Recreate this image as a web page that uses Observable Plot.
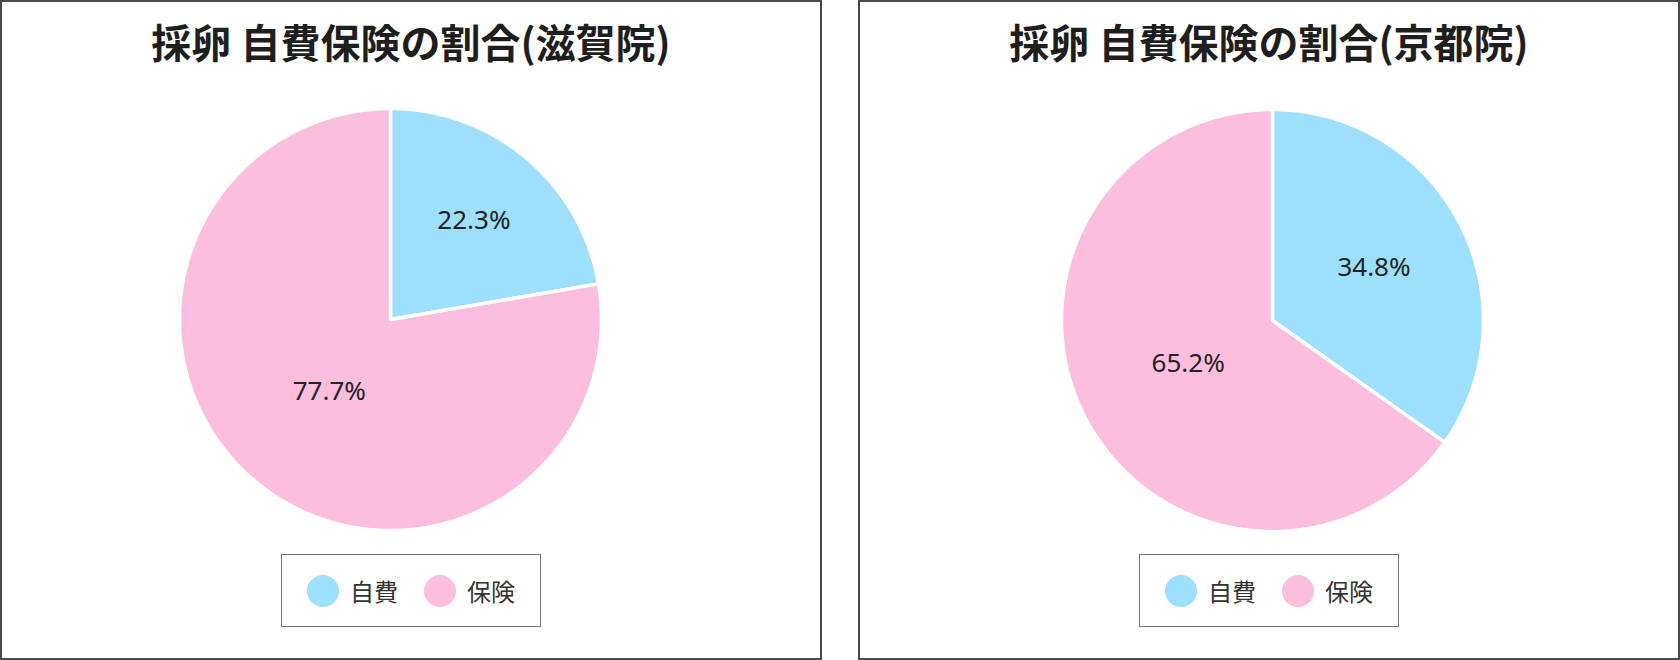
<!DOCTYPE html>
<html>
<head>
<meta charset="utf-8">
<script src="https://cdn.jsdelivr.net/npm/d3@7"></script>
<script src="https://cdn.jsdelivr.net/npm/@observablehq/plot@0.6"></script>
<style>
  html, body { margin: 0; padding: 0; background: #fff; }
  body { width: 1680px; height: 660px; position: relative; overflow: hidden; }
  .panel { position: absolute; top: 0; width: 822px; height: 660px; box-sizing: border-box;
           border: 2px solid #4a4a4a; background: #fff; }
  .title { position: absolute; left: 0; right: 0; top: 19px; line-height: 40px; text-align: center;
           font-family: "Noto Sans CJK JP", sans-serif; font-weight: 700; font-size: 40px; color: #1e1e1e; }
  .chart { position: absolute; }
  .legend { position: absolute; top: 552px; left: 50%; transform: translateX(-50%); height: 73px;
            box-sizing: border-box; border: 1.5px solid #777; display: flex; align-items: center;
            padding: 0 25px; font-family: "Noto Sans CJK JP", sans-serif; font-size: 24px; color: #333; }
  .item { display: flex; align-items: center; }
  .item + .item { margin-left: 26px; }
  .dot { width: 32px; height: 32px; border-radius: 50%; margin-right: 11px; }
</style>
</head>
<body>
<script>
// ---- data ----
const titles = ["採卵 自費保険の割合(滋賀院)", "採卵 自費保険の割合(京都院)"];
const categories = ["自費", "保険"];
const shigaValues = [22.3, 77.7];
const kyotoValues = [34.8, 65.2];
const colors = ["#9ddffc", "#fdbddd"];

// ---- layout (not data) ----
const panelLefts = [0, 858];
const chartPos = [{left: 147.5, top: 77}, {left: 171.5, top: 78}];

function pieChart(values) {
  const rows = categories.map((c, i) => ({label: c, value: values[i]}));
  const arcs = d3.pie().sort(null).value(d => d.value)(rows);
  const pts = [];
  const labels = [];
  for (const a of arcs) {
    const span = a.endAngle - a.startAngle;
    const n = Math.max(2, Math.ceil(span / (2 * Math.PI) * 720));
    pts.push({label: a.data.label, x: 0, y: 0});
    for (let k = 0; k <= n; k++) {
      const t = a.startAngle + span * k / n;
      pts.push({label: a.data.label, x: Math.sin(t), y: Math.cos(t)});
    }
    const mid = (a.startAngle + a.endAngle) / 2;
    const d = Math.max(4 * Math.sin(span / 2) / (3 * span), 0.45);
    labels.push({x: d * Math.sin(mid), y: d * Math.cos(mid), text: a.data.value.toFixed(1) + "%"});
  }
  return Plot.plot({
    width: 480, height: 480, margin: 29,
    x: {domain: [-1, 1], axis: null},
    y: {domain: [-1, 1], axis: null},
    color: {domain: categories, range: colors},
    style: {background: "transparent", overflow: "visible"},
    marks: [
      Plot.line(pts, {x: "x", y: "y", z: "label", fill: "label", stroke: "white",
                      strokeWidth: 3.5, strokeLinejoin: "miter", curve: "linear-closed"}),
      Plot.text(labels, {x: "x", y: "y", text: "text", fontSize: 26, fill: "#222",
                         fontFamily: "'Noto Sans', sans-serif", fontWeight: 400})
    ]
  });
}

[shigaValues, kyotoValues].forEach((vals, i) => {
  const panel = document.createElement("div");
  panel.className = "panel";
  panel.style.left = panelLefts[i] + "px";
  const t = document.createElement("div");
  t.className = "title";
  t.textContent = titles[i];
  panel.appendChild(t);
  const chart = pieChart(vals);
  chart.classList.add("chart");
  chart.style.left = chartPos[i].left + "px";
  chart.style.top = chartPos[i].top + "px";
  panel.appendChild(chart);
  const lg = document.createElement("div");
  lg.className = "legend";
  categories.forEach((c, j) => {
    const it = document.createElement("div");
    it.className = "item";
    const dot = document.createElement("span");
    dot.className = "dot";
    dot.style.background = colors[j];
    const tx = document.createElement("span");
    tx.textContent = c;
    it.appendChild(dot); it.appendChild(tx);
    lg.appendChild(it);
  });
  panel.appendChild(lg);
  document.body.appendChild(panel);
});
</script>
</body>
</html>
